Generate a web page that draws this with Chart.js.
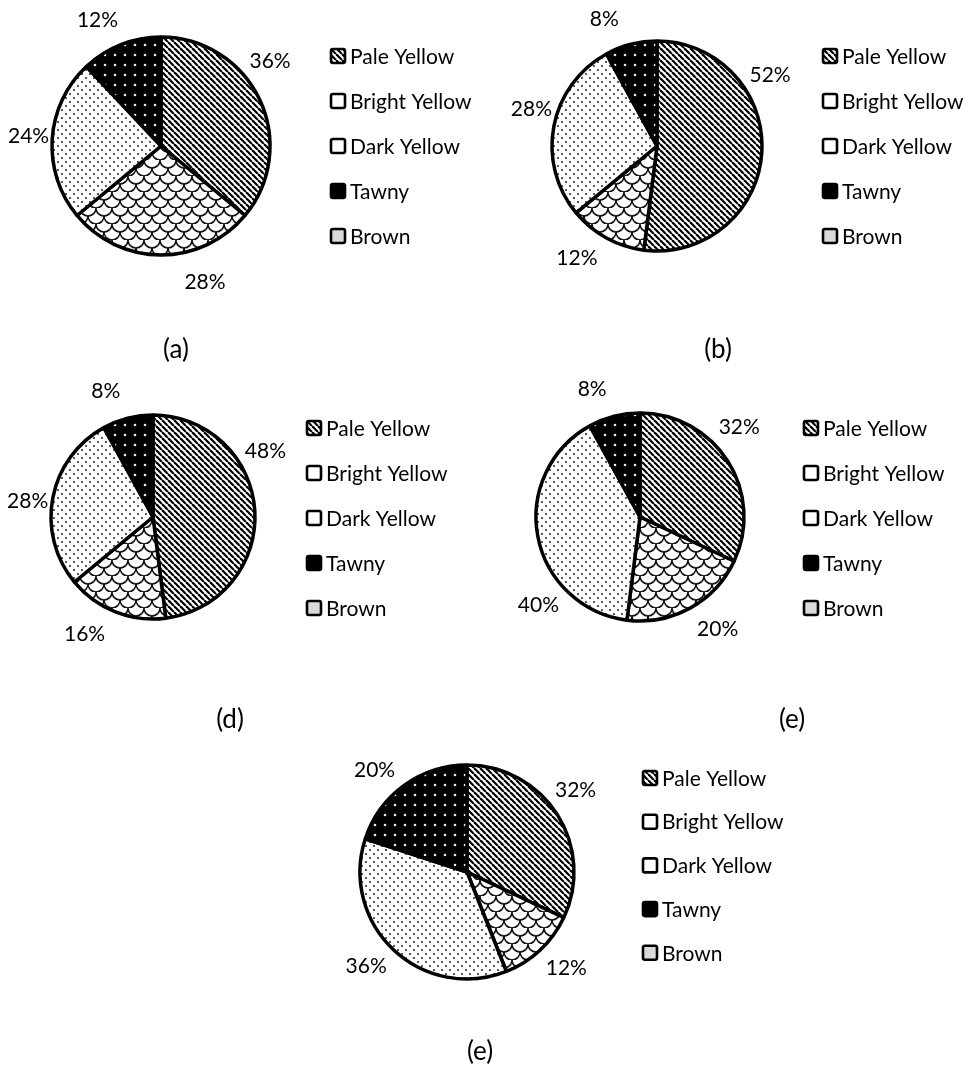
<!DOCTYPE html>
<html>
<head>
<meta charset="utf-8">
<script src="https://cdn.jsdelivr.net/npm/chart.js@4.4.1/dist/chart.umd.min.js"></script>
<style>
  html, body { margin: 0; padding: 0; background: #fff; }
  #page { position: relative; width: 973px; height: 1068px; overflow: hidden; font-family: Lato, sans-serif; }
  #page canvas { position: absolute; left: 0; top: 0; }
  .cap { position: absolute; font-size: 26px; color: #000; transform: translate(-50%, -50%); }
</style>
</head>
<body>
<div id="page">
  <canvas id="chartA"></canvas>
  <canvas id="chartB"></canvas>
  <canvas id="chartD"></canvas>
  <canvas id="chartE1"></canvas>
  <canvas id="chartE2"></canvas>
</div>
<script>
// categories in legend order
const categories = ['Pale Yellow', 'Bright Yellow', 'Dark Yellow', 'Tawny', 'Brown'];
// order the slices run clockwise from 12 o'clock (indexes into categories)
const sliceOrder = [0, 1, 2, 4, 3];
const panelLabels = ['(a)', '(b)', '(d)', '(e)', '(e)'];

// percentages, in legend order
const valuesA  = [36, 0, 28, 12, 24];
const valuesB  = [52, 0, 12,  8, 28];
const valuesD  = [48, 0, 16,  8, 28];
const valuesE1 = [32, 0, 20,  8, 40];
const valuesE2 = [32, 0, 12, 20, 36];

const W = 973, H = 1068;

// --- fill patterns ---
function tile(w, h, draw) {
    const c = document.createElement('canvas');
    c.width = w; c.height = h;
    const g = c.getContext('2d');
    draw(g, w, h);
    return document.createElement('canvas').getContext('2d').createPattern(c, 'repeat');
}

const stripes = tile(6, 6, (g, w, h) => {
    g.fillStyle = '#fff'; g.fillRect(0, 0, w, h);
    g.strokeStyle = '#000'; g.lineWidth = 2.2;
    for (let x = -w; x <= w; x += w) {
        g.beginPath(); g.moveTo(x, 0); g.lineTo(x + w, h); g.stroke();
    }
});

const scales = tile(16, 16, (g, w, h) => {
    g.fillStyle = '#fff'; g.fillRect(0, 0, w, h);
    g.strokeStyle = '#111'; g.lineWidth = 1.6;
    const r = w / 2;
    [[r, 0], [0, r], [w, r], [r, h]].forEach(([x, y]) => {
        g.beginPath(); g.arc(x, y, r, 0, Math.PI); g.stroke();
    });
});

const lightDots = tile(8, 8, (g, w, h) => {
    g.fillStyle = '#fff'; g.fillRect(0, 0, w, h);
    g.fillStyle = '#333';
    [[2, 2], [6, 6]].forEach(([x, y]) => { g.beginPath(); g.arc(x, y, 1.1, 0, Math.PI * 2); g.fill(); });
});

const darkDots = tile(10, 10, (g, w, h) => {
    g.fillStyle = '#000'; g.fillRect(0, 0, w, h);
    g.fillStyle = '#eee';
    g.beginPath(); g.arc(5, 5, 1.3, 0, Math.PI * 2); g.fill();
});

// slice fills and legend swatches, in legend order
const fills = [stripes, '#fff', scales, darkDots, lightDots];
const swatches = [stripes, '#fff', '#fff', '#000', '#d9d9d9'];

// percentage labels placed outside the pie
const pctLabels = {
    id: 'pctLabels',
    afterDatasetsDraw(chart, args, opts) {
        const ctx = chart.ctx;
        const meta = chart.getDatasetMeta(0);
        const vals = chart.data.datasets[0].data;
        ctx.save();
        ctx.font = '21px Lato';
        ctx.fillStyle = '#000';
        ctx.textAlign = 'center';
        ctx.textBaseline = 'middle';
        meta.data.forEach((arc, i) => {
            if (!vals[i]) return;
            const p = arc.getProps(['x', 'y', 'startAngle', 'endAngle', 'outerRadius'], true);
            const a = (p.startAngle + p.endAngle) / 2 + (opts.turn[i] || 0) * Math.PI / 180;
            // labels above/below sit a little further out than side ones
            const d = p.outerRadius + 23 + 11 * Math.abs(Math.sin(a));
            ctx.fillText(vals[i] + '%', p.x + Math.cos(a) * d, p.y + Math.sin(a) * d + 1);
        });
        ctx.restore();
    }
};

// legend drawn beside the pie
const sideLegend = {
    id: 'sideLegend',
    afterDraw(chart, args, opts) {
        const ctx = chart.ctx;
        const s = 14;
        ctx.save();
        ctx.font = '21px Lato';
        ctx.textBaseline = 'middle';
        categories.forEach((name, k) => {
            const y = opts.y + k * opts.gap;
            ctx.fillStyle = swatches[k];
            ctx.beginPath();
            ctx.roundRect(opts.x, y - s / 2, s, s, 2);
            ctx.fill();
            ctx.lineWidth = 2.6;
            ctx.strokeStyle = '#000';
            ctx.stroke();
            ctx.fillStyle = '#000';
            ctx.fillText(name, opts.x + s + 5, y + 1);
        });
        ctx.restore();
    }
};

// layout of each panel; turn = label angle nudge (deg) per slice, in slice order
const panels = [
    { id: 'chartA',  values: valuesA,  cx: 161, cy: 146, r: 109, lx: 331, ly: 56,  gap: 45,   capX: 176, capY: 348,  turn: [-13, 0, -18, 1, -5] },
    { id: 'chartB',  values: valuesB,  cx: 657, cy: 146, r: 105, lx: 823, ly: 56,  gap: 45,   capX: 718, capY: 348,  turn: [-36, 0, 7, 6, -8] },
    { id: 'chartD',  values: valuesD,  cx: 153, cy: 517, r: 102, lx: 307, ly: 428, gap: 45,   capX: 230, capY: 718,  turn: [-27, 0, 9, -3, -6] },
    { id: 'chartE1', values: valuesE1, cx: 640, cy: 517, r: 104, lx: 804, ly: 428, gap: 45,   capX: 792, capY: 718,  turn: [-10, 0, -6, -30, -6] },
    { id: 'chartE2', values: valuesE2, cx: 467, cy: 872, r: 107, lx: 643, ly: 778, gap: 43.7, capX: 480, capY: 1050, turn: [-5, 0, -3, 4, -6] }
];

panels.forEach((p, n) => {
    const canvas = document.getElementById(p.id);
    canvas.width = W;
    canvas.height = H;
    const a = p.r + 4;
    new Chart(canvas, {
        type: 'pie',
        data: {
            labels: sliceOrder.map(i => categories[i]),
            datasets: [{
                data: sliceOrder.map(i => p.values[i]),
                backgroundColor: sliceOrder.map(i => fills[i]),
                borderColor: '#000',
                borderWidth: 3.5,
                radius: p.r
            }]
        },
        options: {
            responsive: false,
            animation: false,
            events: [],
            layout: { padding: { left: p.cx - a, right: W - p.cx - a, top: p.cy - a, bottom: H - p.cy - a } },
            plugins: {
                legend: { display: false },
                tooltip: { enabled: false },
                pctLabels: { turn: p.turn },
                sideLegend: { x: p.lx, y: p.ly, gap: p.gap }
            }
        },
        plugins: [pctLabels, sideLegend]
    });

    const cap = document.createElement('div');
    cap.className = 'cap';
    cap.textContent = panelLabels[n];
    cap.style.left = p.capX + 'px';
    cap.style.top = p.capY + 'px';
    document.getElementById('page').appendChild(cap);
});
</script>
</body>
</html>
